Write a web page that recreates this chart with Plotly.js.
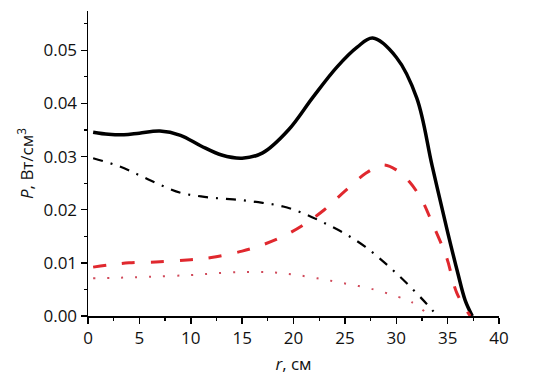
<!DOCTYPE html>
<html><head><meta charset="utf-8">
<script src="https://cdn.plot.ly/plotly-3.0.1.min.js"></script>
<style>html,body{margin:0;padding:0;background:#fff}#chart{width:537px;height:380px}</style>
</head><body><div id="chart"></div>
<script>
const rSolid = [0.5, 2, 3.5, 5, 7, 9, 11, 13, 15, 17, 19.5, 21.9, 24.2, 26.2, 27.7, 30, 32, 33.5, 35, 36, 36.7, 37.4];
const pSolid = [0.0346, 0.0342, 0.0341, 0.0344, 0.0348, 0.0340, 0.0320, 0.0303, 0.0297, 0.0307, 0.0350, 0.0412, 0.0468, 0.0506, 0.0523, 0.0487, 0.0410, 0.0282, 0.0158, 0.0080, 0.0030, 0.0];
const rDash = [0.5, 2, 4, 7, 10, 12, 15, 17, 19, 21, 23, 25, 27, 28.7, 30, 31.3, 32.5, 33.5, 34.9, 35.9, 37.2];
const pDash = [0.0092, 0.0096, 0.0100, 0.0102, 0.0106, 0.0110, 0.0122, 0.0134, 0.0150, 0.0172, 0.0200, 0.0235, 0.0268, 0.0284, 0.0275, 0.0252, 0.0218, 0.0175, 0.0110, 0.0043, 0.0];
const rDashDot = [0.5, 3, 5, 7, 9, 11, 13, 15, 17, 19, 21, 23, 25, 27, 29, 31, 33, 34];
const pDashDot = [0.0297, 0.0282, 0.0265, 0.0247, 0.0232, 0.0225, 0.0221, 0.0218, 0.0213, 0.0206, 0.0193, 0.0175, 0.0155, 0.0130, 0.0098, 0.0062, 0.0022, 0.0];
const rDot = [0.5, 3, 6, 10, 13, 15.6, 18, 20, 22.3, 24.8, 27.6, 30.2, 31.5, 33];
const pDot = [0.0071, 0.0072, 0.0074, 0.0077, 0.0081, 0.0083, 0.0082, 0.0078, 0.0071, 0.0062, 0.0051, 0.0036, 0.0026, 0.0005];

const traces = [
  {x: rSolid, y: pSolid, mode: 'lines', line: {color: '#000', width: 3.5, shape: 'spline', smoothing: 1}},
  {x: rDash, y: pDash, mode: 'lines', line: {color: '#e0282e', width: 3, dash: '13px,16px', shape: 'spline', smoothing: 1}},
  {x: rDashDot, y: pDashDot, mode: 'lines', line: {color: '#000', width: 2.2, dash: '10px,8px,2px,8px', shape: 'spline', smoothing: 1}},
  {x: rDot, y: pDot, mode: 'lines', line: {color: '#d04a5a', width: 2, dash: '2px,12px', shape: 'spline', smoothing: 1}}
];
const font = {family: 'Open Sans, Noto Sans, sans-serif', size: 17, color: '#111'};
const layout = {
  width: 537, height: 380,
  margin: {l: 88, r: 38, t: 11, b: 64},
  showlegend: false,
  paper_bgcolor: '#fff', plot_bgcolor: '#fff',
  font: font,
  xaxis: {
    range: [0, 40], dtick: 5, tick0: 0, ticks: 'outside', ticklen: 6, tickwidth: 1.5, tickcolor: '#000',
    showline: true, linecolor: '#000', linewidth: 1.5, showgrid: false, zeroline: false,
    minor: {dtick: 2.5, ticks: 'outside', ticklen: 3, tickwidth: 1.2, tickcolor: '#000', showgrid: false},
    tickfont: font,
    title: {text: '<i>r</i>, см', font: font, standoff: 10}
  },
  yaxis: {
    range: [0, 0.0574], dtick: 0.01, tick0: 0, tickformat: '.2f', ticks: 'outside', ticklen: 6, tickwidth: 1.5, tickcolor: '#000',
    showline: true, linecolor: '#000', linewidth: 1.5, showgrid: false, zeroline: false,
    minor: {dtick: 0.005, ticks: 'outside', ticklen: 3, tickwidth: 1.2, tickcolor: '#000', showgrid: false},
    tickfont: font,
    title: {text: '<i>P</i>, Вт/см<sup>3</sup>', font: font, standoff: 5}
  }
};
Plotly.newPlot('chart', traces, layout, {displayModeBar: false, staticPlot: true});
</script></body></html>
